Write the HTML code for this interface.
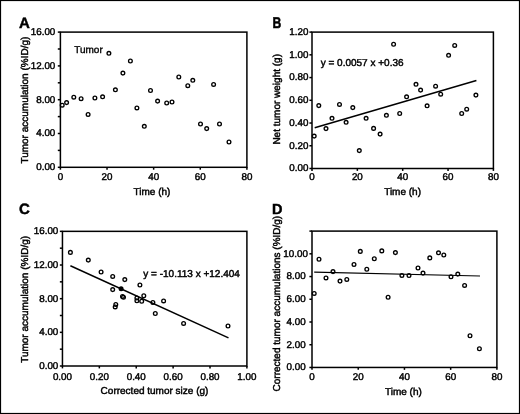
<!DOCTYPE html>
<html><head><meta charset="utf-8"><style>
html,body{margin:0;padding:0;background:#fff;}
body{width:520px;height:414px;overflow:hidden;}
svg{display:block;filter:grayscale(1);}
text{font-family:"Liberation Sans",sans-serif;text-rendering:geometricPrecision;fill:#000;stroke:#000;stroke-width:0.45px;}
</style></head><body>
<svg width="520" height="414" viewBox="0 0 520 414">
<rect x="0.5" y="0.5" width="519" height="413" fill="#fff" stroke="#000" stroke-width="1.2"/>
<rect x="60.4" y="32.1" width="186.5" height="135.2" fill="none" stroke="#000" stroke-width="1.5"/>
<line x1="57.8" y1="167.3" x2="60.4" y2="167.3" stroke="#000" stroke-width="1.5"/>
<line x1="57.8" y1="133.5" x2="60.4" y2="133.5" stroke="#000" stroke-width="1.5"/>
<line x1="57.8" y1="99.7" x2="60.4" y2="99.7" stroke="#000" stroke-width="1.5"/>
<line x1="57.8" y1="65.9" x2="60.4" y2="65.9" stroke="#000" stroke-width="1.5"/>
<line x1="57.8" y1="32.1" x2="60.4" y2="32.1" stroke="#000" stroke-width="1.5"/>
<line x1="57.8" y1="150.4" x2="60.4" y2="150.4" stroke="#000" stroke-width="1.5"/>
<line x1="57.8" y1="116.6" x2="60.4" y2="116.6" stroke="#000" stroke-width="1.5"/>
<line x1="57.8" y1="82.8" x2="60.4" y2="82.8" stroke="#000" stroke-width="1.5"/>
<line x1="57.8" y1="49.0" x2="60.4" y2="49.0" stroke="#000" stroke-width="1.5"/>
<line x1="60.4" y1="167.3" x2="60.4" y2="169.7" stroke="#000" stroke-width="1.5"/>
<line x1="107.03" y1="167.3" x2="107.03" y2="169.7" stroke="#000" stroke-width="1.5"/>
<line x1="153.65" y1="167.3" x2="153.65" y2="169.7" stroke="#000" stroke-width="1.5"/>
<line x1="200.28" y1="167.3" x2="200.28" y2="169.7" stroke="#000" stroke-width="1.5"/>
<line x1="246.9" y1="167.3" x2="246.9" y2="169.7" stroke="#000" stroke-width="1.5"/>
<text x="55.3" y="170.2" text-anchor="end" font-size="9.8">0.00</text>
<text x="55.3" y="136.4" text-anchor="end" font-size="9.8">4.00</text>
<text x="55.3" y="102.6" text-anchor="end" font-size="9.8">8.00</text>
<text x="55.3" y="68.8" text-anchor="end" font-size="9.8">12.00</text>
<text x="55.3" y="35" text-anchor="end" font-size="9.8">16.00</text>
<text x="60.4" y="180.3" text-anchor="middle" font-size="9.8">0</text>
<text x="107.03" y="180.3" text-anchor="middle" font-size="9.8">20</text>
<text x="153.65" y="180.3" text-anchor="middle" font-size="9.8">40</text>
<text x="200.28" y="180.3" text-anchor="middle" font-size="9.8">60</text>
<text x="246.9" y="180.3" text-anchor="middle" font-size="9.8">80</text>
<text x="152" y="194.6" text-anchor="middle" font-size="10">Time (h)</text>
<text transform="translate(27.8,100.15) rotate(-90)" text-anchor="middle" font-size="10">Tumor accumulation (%ID/g)</text>
<text x="19.1" y="27.6" font-size="15" font-weight="bold">A</text>
<text x="74.2" y="53.0" font-size="10" style="stroke-width:0.35px">Tumor</text>
<circle cx="62.2" cy="105.2" r="1.85" fill="none" stroke="#000" stroke-width="1.35"/>
<circle cx="66.6" cy="102.6" r="1.85" fill="none" stroke="#000" stroke-width="1.35"/>
<circle cx="73.8" cy="97.2" r="1.85" fill="none" stroke="#000" stroke-width="1.35"/>
<circle cx="81.1" cy="98.7" r="1.85" fill="none" stroke="#000" stroke-width="1.35"/>
<circle cx="88.1" cy="114.4" r="1.85" fill="none" stroke="#000" stroke-width="1.35"/>
<circle cx="94.9" cy="98" r="1.85" fill="none" stroke="#000" stroke-width="1.35"/>
<circle cx="102.6" cy="96.8" r="1.85" fill="none" stroke="#000" stroke-width="1.35"/>
<circle cx="108.9" cy="53.3" r="1.85" fill="none" stroke="#000" stroke-width="1.35"/>
<circle cx="115.4" cy="89.8" r="1.85" fill="none" stroke="#000" stroke-width="1.35"/>
<circle cx="122.9" cy="73.1" r="1.85" fill="none" stroke="#000" stroke-width="1.35"/>
<circle cx="130.4" cy="61" r="1.85" fill="none" stroke="#000" stroke-width="1.35"/>
<circle cx="136.9" cy="107.9" r="1.85" fill="none" stroke="#000" stroke-width="1.35"/>
<circle cx="144.3" cy="126.3" r="1.85" fill="none" stroke="#000" stroke-width="1.35"/>
<circle cx="150.5" cy="90.5" r="1.85" fill="none" stroke="#000" stroke-width="1.35"/>
<circle cx="157.6" cy="101.1" r="1.85" fill="none" stroke="#000" stroke-width="1.35"/>
<circle cx="166.7" cy="103" r="1.85" fill="none" stroke="#000" stroke-width="1.35"/>
<circle cx="172" cy="102" r="1.85" fill="none" stroke="#000" stroke-width="1.35"/>
<circle cx="178.8" cy="77" r="1.85" fill="none" stroke="#000" stroke-width="1.35"/>
<circle cx="187.8" cy="85.7" r="1.85" fill="none" stroke="#000" stroke-width="1.35"/>
<circle cx="192.8" cy="80.3" r="1.85" fill="none" stroke="#000" stroke-width="1.35"/>
<circle cx="200.5" cy="124" r="1.85" fill="none" stroke="#000" stroke-width="1.35"/>
<circle cx="206.7" cy="128.6" r="1.85" fill="none" stroke="#000" stroke-width="1.35"/>
<circle cx="213.6" cy="84.4" r="1.85" fill="none" stroke="#000" stroke-width="1.35"/>
<circle cx="219.5" cy="124" r="1.85" fill="none" stroke="#000" stroke-width="1.35"/>
<circle cx="229" cy="142" r="1.85" fill="none" stroke="#000" stroke-width="1.35"/>
<rect x="312" y="32.1" width="181.4" height="136.4" fill="none" stroke="#000" stroke-width="1.5"/>
<line x1="309.4" y1="168.5" x2="312" y2="168.5" stroke="#000" stroke-width="1.5"/>
<line x1="309.4" y1="145.77" x2="312" y2="145.77" stroke="#000" stroke-width="1.5"/>
<line x1="309.4" y1="123.03" x2="312" y2="123.03" stroke="#000" stroke-width="1.5"/>
<line x1="309.4" y1="100.3" x2="312" y2="100.3" stroke="#000" stroke-width="1.5"/>
<line x1="309.4" y1="77.57" x2="312" y2="77.57" stroke="#000" stroke-width="1.5"/>
<line x1="309.4" y1="54.83" x2="312" y2="54.83" stroke="#000" stroke-width="1.5"/>
<line x1="309.4" y1="32.1" x2="312" y2="32.1" stroke="#000" stroke-width="1.5"/>
<line x1="312.0" y1="168.5" x2="312.0" y2="170.9" stroke="#000" stroke-width="1.5"/>
<line x1="357.35" y1="168.5" x2="357.35" y2="170.9" stroke="#000" stroke-width="1.5"/>
<line x1="402.7" y1="168.5" x2="402.7" y2="170.9" stroke="#000" stroke-width="1.5"/>
<line x1="448.05" y1="168.5" x2="448.05" y2="170.9" stroke="#000" stroke-width="1.5"/>
<line x1="493.4" y1="168.5" x2="493.4" y2="170.9" stroke="#000" stroke-width="1.5"/>
<text x="308.4" y="171.4" text-anchor="end" font-size="9.8">0.00</text>
<text x="308.4" y="148.67" text-anchor="end" font-size="9.8">0.20</text>
<text x="308.4" y="125.93" text-anchor="end" font-size="9.8">0.40</text>
<text x="308.4" y="103.2" text-anchor="end" font-size="9.8">0.60</text>
<text x="308.4" y="80.47" text-anchor="end" font-size="9.8">0.80</text>
<text x="308.4" y="57.73" text-anchor="end" font-size="9.8">1.00</text>
<text x="308.4" y="35" text-anchor="end" font-size="9.8">1.20</text>
<text x="312.0" y="180.3" text-anchor="middle" font-size="9.8">0</text>
<text x="357.35" y="180.3" text-anchor="middle" font-size="9.8">20</text>
<text x="402.7" y="180.3" text-anchor="middle" font-size="9.8">40</text>
<text x="448.05" y="180.3" text-anchor="middle" font-size="9.8">60</text>
<text x="493.4" y="180.3" text-anchor="middle" font-size="9.8">80</text>
<text x="402.6" y="194.6" text-anchor="middle" font-size="10">Time (h)</text>
<text transform="translate(279.7,99.3) rotate(-90)" text-anchor="middle" font-size="10">Net tumor weight (g)</text>
<text transform="translate(272.5,27.8) scale(0.84,1.08)" font-size="14.5" font-weight="bold">B</text>
<line x1="314.7" y1="127.7" x2="476.4" y2="80.5" stroke="#000" stroke-width="1.5"/>
<text x="320.7" y="66.2" font-size="10">y = 0.0057 x +0.36</text>
<circle cx="314.2" cy="136.1" r="1.85" fill="none" stroke="#000" stroke-width="1.35"/>
<circle cx="318.8" cy="105.6" r="1.85" fill="none" stroke="#000" stroke-width="1.35"/>
<circle cx="326" cy="128.6" r="1.85" fill="none" stroke="#000" stroke-width="1.35"/>
<circle cx="332" cy="118.3" r="1.85" fill="none" stroke="#000" stroke-width="1.35"/>
<circle cx="339.5" cy="104.4" r="1.85" fill="none" stroke="#000" stroke-width="1.35"/>
<circle cx="346.1" cy="122.3" r="1.85" fill="none" stroke="#000" stroke-width="1.35"/>
<circle cx="352.8" cy="107.6" r="1.85" fill="none" stroke="#000" stroke-width="1.35"/>
<circle cx="359.3" cy="150.6" r="1.85" fill="none" stroke="#000" stroke-width="1.35"/>
<circle cx="366.1" cy="118.3" r="1.85" fill="none" stroke="#000" stroke-width="1.35"/>
<circle cx="373.6" cy="128.4" r="1.85" fill="none" stroke="#000" stroke-width="1.35"/>
<circle cx="380.1" cy="134.1" r="1.85" fill="none" stroke="#000" stroke-width="1.35"/>
<circle cx="386.4" cy="115.3" r="1.85" fill="none" stroke="#000" stroke-width="1.35"/>
<circle cx="393.6" cy="44.2" r="1.85" fill="none" stroke="#000" stroke-width="1.35"/>
<circle cx="399.7" cy="113.5" r="1.85" fill="none" stroke="#000" stroke-width="1.35"/>
<circle cx="406.6" cy="96.8" r="1.85" fill="none" stroke="#000" stroke-width="1.35"/>
<circle cx="416" cy="84.3" r="1.85" fill="none" stroke="#000" stroke-width="1.35"/>
<circle cx="420.6" cy="90.1" r="1.85" fill="none" stroke="#000" stroke-width="1.35"/>
<circle cx="427.1" cy="105.8" r="1.85" fill="none" stroke="#000" stroke-width="1.35"/>
<circle cx="435.6" cy="86.2" r="1.85" fill="none" stroke="#000" stroke-width="1.35"/>
<circle cx="440.7" cy="94.2" r="1.85" fill="none" stroke="#000" stroke-width="1.35"/>
<circle cx="448.6" cy="55.3" r="1.85" fill="none" stroke="#000" stroke-width="1.35"/>
<circle cx="454.7" cy="45.4" r="1.85" fill="none" stroke="#000" stroke-width="1.35"/>
<circle cx="461.7" cy="113.5" r="1.85" fill="none" stroke="#000" stroke-width="1.35"/>
<circle cx="466.7" cy="109.2" r="1.85" fill="none" stroke="#000" stroke-width="1.35"/>
<circle cx="475.9" cy="95.1" r="1.85" fill="none" stroke="#000" stroke-width="1.35"/>
<rect x="62.45" y="231.35" width="184.45" height="134.65" fill="none" stroke="#000" stroke-width="1.5"/>
<line x1="59.85" y1="366.0" x2="62.45" y2="366.0" stroke="#000" stroke-width="1.5"/>
<line x1="59.85" y1="332.34" x2="62.45" y2="332.34" stroke="#000" stroke-width="1.5"/>
<line x1="59.85" y1="298.68" x2="62.45" y2="298.68" stroke="#000" stroke-width="1.5"/>
<line x1="59.85" y1="265.01" x2="62.45" y2="265.01" stroke="#000" stroke-width="1.5"/>
<line x1="59.85" y1="231.35" x2="62.45" y2="231.35" stroke="#000" stroke-width="1.5"/>
<line x1="59.85" y1="349.17" x2="62.45" y2="349.17" stroke="#000" stroke-width="1.5"/>
<line x1="59.85" y1="315.51" x2="62.45" y2="315.51" stroke="#000" stroke-width="1.5"/>
<line x1="59.85" y1="281.84" x2="62.45" y2="281.84" stroke="#000" stroke-width="1.5"/>
<line x1="59.85" y1="248.18" x2="62.45" y2="248.18" stroke="#000" stroke-width="1.5"/>
<line x1="62.45" y1="366" x2="62.45" y2="368.4" stroke="#000" stroke-width="1.5"/>
<line x1="99.34" y1="366" x2="99.34" y2="368.4" stroke="#000" stroke-width="1.5"/>
<line x1="136.23" y1="366" x2="136.23" y2="368.4" stroke="#000" stroke-width="1.5"/>
<line x1="173.12" y1="366" x2="173.12" y2="368.4" stroke="#000" stroke-width="1.5"/>
<line x1="210.01" y1="366" x2="210.01" y2="368.4" stroke="#000" stroke-width="1.5"/>
<line x1="246.9" y1="366" x2="246.9" y2="368.4" stroke="#000" stroke-width="1.5"/>
<text x="58.3" y="368.9" text-anchor="end" font-size="9.8">0.00</text>
<text x="58.3" y="335.24" text-anchor="end" font-size="9.8">4.00</text>
<text x="58.3" y="301.57" text-anchor="end" font-size="9.8">8.00</text>
<text x="58.3" y="267.91" text-anchor="end" font-size="9.8">12.00</text>
<text x="58.3" y="234.25" text-anchor="end" font-size="9.8">16.00</text>
<text x="62.45" y="380" text-anchor="middle" font-size="9.8">0.00</text>
<text x="99.34" y="380" text-anchor="middle" font-size="9.8">0.20</text>
<text x="136.23" y="380" text-anchor="middle" font-size="9.8">0.40</text>
<text x="173.12" y="380" text-anchor="middle" font-size="9.8">0.60</text>
<text x="210.01" y="380" text-anchor="middle" font-size="9.8">0.80</text>
<text x="246.9" y="380" text-anchor="middle" font-size="9.8">1.00</text>
<text x="154.5" y="394" text-anchor="middle" font-size="10">Corrected tumor size (g)</text>
<text transform="translate(27.7,299.4) rotate(-90)" text-anchor="middle" font-size="10">Tumor accumulation (%ID/g)</text>
<text x="19.0" y="214.3" font-size="15" font-weight="bold">C</text>
<line x1="70.4" y1="265.7" x2="228.5" y2="337.9" stroke="#000" stroke-width="1.5"/>
<circle cx="121.1" cy="288.8" r="2.5" fill="#000"/>
<text x="239.9" y="276.5" text-anchor="end" font-size="10">y = -10.113 x +12.404</text>
<circle cx="70.4" cy="252.4" r="1.85" fill="none" stroke="#000" stroke-width="1.35"/>
<circle cx="88.3" cy="260.1" r="1.85" fill="none" stroke="#000" stroke-width="1.35"/>
<circle cx="101.1" cy="272" r="1.85" fill="none" stroke="#000" stroke-width="1.35"/>
<circle cx="112.7" cy="276.4" r="1.85" fill="none" stroke="#000" stroke-width="1.35"/>
<circle cx="124.8" cy="279.6" r="1.85" fill="none" stroke="#000" stroke-width="1.35"/>
<circle cx="112.7" cy="289.6" r="1.85" fill="none" stroke="#000" stroke-width="1.35"/>
<circle cx="122.5" cy="296.5" r="1.85" fill="none" stroke="#000" stroke-width="1.35"/>
<circle cx="123.5" cy="297.2" r="1.85" fill="none" stroke="#000" stroke-width="1.35"/>
<circle cx="115.8" cy="304.5" r="1.85" fill="none" stroke="#000" stroke-width="1.35"/>
<circle cx="115.2" cy="306.9" r="1.85" fill="none" stroke="#000" stroke-width="1.35"/>
<circle cx="139.9" cy="285" r="1.85" fill="none" stroke="#000" stroke-width="1.35"/>
<circle cx="143.8" cy="295.8" r="1.85" fill="none" stroke="#000" stroke-width="1.35"/>
<circle cx="136.9" cy="298" r="1.85" fill="none" stroke="#000" stroke-width="1.35"/>
<circle cx="136.9" cy="300.8" r="1.85" fill="none" stroke="#000" stroke-width="1.35"/>
<circle cx="141.7" cy="301.2" r="1.85" fill="none" stroke="#000" stroke-width="1.35"/>
<circle cx="152.9" cy="302.5" r="1.85" fill="none" stroke="#000" stroke-width="1.35"/>
<circle cx="155.3" cy="313.5" r="1.85" fill="none" stroke="#000" stroke-width="1.35"/>
<circle cx="163.6" cy="300.9" r="1.85" fill="none" stroke="#000" stroke-width="1.35"/>
<circle cx="183.6" cy="323.4" r="1.85" fill="none" stroke="#000" stroke-width="1.35"/>
<circle cx="228" cy="326" r="1.85" fill="none" stroke="#000" stroke-width="1.35"/>
<rect x="312" y="231.1" width="184.9" height="136.35" fill="none" stroke="#000" stroke-width="1.5"/>
<line x1="309.4" y1="367.45" x2="312" y2="367.45" stroke="#000" stroke-width="1.5"/>
<line x1="309.4" y1="344.72" x2="312" y2="344.72" stroke="#000" stroke-width="1.5"/>
<line x1="309.4" y1="322.0" x2="312" y2="322.0" stroke="#000" stroke-width="1.5"/>
<line x1="309.4" y1="299.27" x2="312" y2="299.27" stroke="#000" stroke-width="1.5"/>
<line x1="309.4" y1="276.55" x2="312" y2="276.55" stroke="#000" stroke-width="1.5"/>
<line x1="309.4" y1="253.82" x2="312" y2="253.82" stroke="#000" stroke-width="1.5"/>
<line x1="309.4" y1="231.1" x2="312" y2="231.1" stroke="#000" stroke-width="1.5"/>
<line x1="312.0" y1="367.45" x2="312.0" y2="369.85" stroke="#000" stroke-width="1.5"/>
<line x1="358.23" y1="367.45" x2="358.23" y2="369.85" stroke="#000" stroke-width="1.5"/>
<line x1="404.45" y1="367.45" x2="404.45" y2="369.85" stroke="#000" stroke-width="1.5"/>
<line x1="450.67" y1="367.45" x2="450.67" y2="369.85" stroke="#000" stroke-width="1.5"/>
<line x1="496.9" y1="367.45" x2="496.9" y2="369.85" stroke="#000" stroke-width="1.5"/>
<text x="305.7" y="370.35" text-anchor="end" font-size="9.8">0.00</text>
<text x="305.7" y="347.62" text-anchor="end" font-size="9.8">2.00</text>
<text x="305.7" y="324.9" text-anchor="end" font-size="9.8">4.00</text>
<text x="305.7" y="302.17" text-anchor="end" font-size="9.8">6.00</text>
<text x="305.7" y="279.45" text-anchor="end" font-size="9.8">8.00</text>
<text x="312.0" y="380.3" text-anchor="middle" font-size="9.8">0</text>
<text x="358.23" y="380.3" text-anchor="middle" font-size="9.8">20</text>
<text x="404.45" y="380.3" text-anchor="middle" font-size="9.8">40</text>
<text x="450.67" y="380.3" text-anchor="middle" font-size="9.8">60</text>
<text x="496.9" y="380.3" text-anchor="middle" font-size="9.8">80</text>
<text x="403.4" y="394.5" text-anchor="middle" font-size="10">Time (h)</text>
<text transform="translate(280.3,303.6) rotate(-90)" text-anchor="middle" font-size="10">Corrected tumor accumulations (%ID/g)</text>
<text x="272.1" y="213.8" font-size="14.5" font-weight="bold">D</text>
<text x="307.9" y="256.72" text-anchor="end" font-size="9.8">10.00</text>
<line x1="314.2" y1="272.1" x2="480" y2="276.0" stroke="#000" stroke-width="1.25"/>
<circle cx="314.2" cy="293.4" r="1.85" fill="none" stroke="#000" stroke-width="1.35"/>
<circle cx="319" cy="259.3" r="1.85" fill="none" stroke="#000" stroke-width="1.35"/>
<circle cx="326" cy="277.9" r="1.85" fill="none" stroke="#000" stroke-width="1.35"/>
<circle cx="333" cy="271.6" r="1.85" fill="none" stroke="#000" stroke-width="1.35"/>
<circle cx="340" cy="281.1" r="1.85" fill="none" stroke="#000" stroke-width="1.35"/>
<circle cx="346.8" cy="279.4" r="1.85" fill="none" stroke="#000" stroke-width="1.35"/>
<circle cx="354" cy="264.4" r="1.85" fill="none" stroke="#000" stroke-width="1.35"/>
<circle cx="360.3" cy="251.4" r="1.85" fill="none" stroke="#000" stroke-width="1.35"/>
<circle cx="366.8" cy="269.2" r="1.85" fill="none" stroke="#000" stroke-width="1.35"/>
<circle cx="374.3" cy="258.8" r="1.85" fill="none" stroke="#000" stroke-width="1.35"/>
<circle cx="381.8" cy="250.9" r="1.85" fill="none" stroke="#000" stroke-width="1.35"/>
<circle cx="388.1" cy="297.2" r="1.85" fill="none" stroke="#000" stroke-width="1.35"/>
<circle cx="395.4" cy="252.6" r="1.85" fill="none" stroke="#000" stroke-width="1.35"/>
<circle cx="401.9" cy="275.4" r="1.85" fill="none" stroke="#000" stroke-width="1.35"/>
<circle cx="409" cy="275.5" r="1.85" fill="none" stroke="#000" stroke-width="1.35"/>
<circle cx="418" cy="268" r="1.85" fill="none" stroke="#000" stroke-width="1.35"/>
<circle cx="423" cy="273.1" r="1.85" fill="none" stroke="#000" stroke-width="1.35"/>
<circle cx="429.8" cy="257.9" r="1.85" fill="none" stroke="#000" stroke-width="1.35"/>
<circle cx="438.5" cy="252.8" r="1.85" fill="none" stroke="#000" stroke-width="1.35"/>
<circle cx="443.8" cy="255" r="1.85" fill="none" stroke="#000" stroke-width="1.35"/>
<circle cx="451" cy="276.7" r="1.85" fill="none" stroke="#000" stroke-width="1.35"/>
<circle cx="457.8" cy="274.1" r="1.85" fill="none" stroke="#000" stroke-width="1.35"/>
<circle cx="464.6" cy="285.4" r="1.85" fill="none" stroke="#000" stroke-width="1.35"/>
<circle cx="470" cy="335.8" r="1.85" fill="none" stroke="#000" stroke-width="1.35"/>
<circle cx="479.4" cy="348.8" r="1.85" fill="none" stroke="#000" stroke-width="1.35"/>
</svg>
</body></html>
